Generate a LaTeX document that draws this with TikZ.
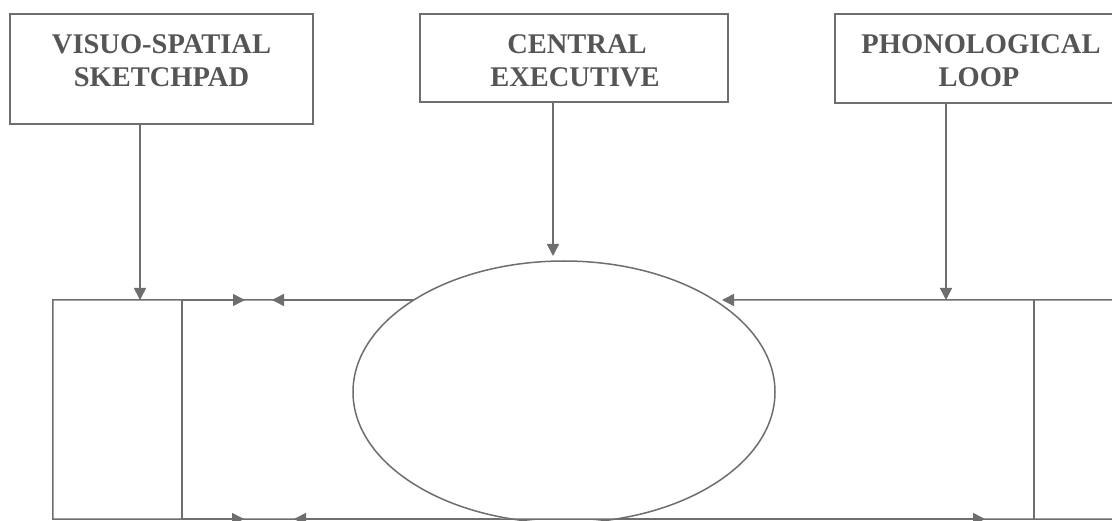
\documentclass[tikz,border=0pt]{standalone}
\usepackage{fontspec}
\setmainfont{Liberation Serif}
\usetikzlibrary{arrows.meta,shapes.geometric}
\definecolor{linec}{HTML}{6E6E6E}
\definecolor{textc}{HTML}{555555}
\begin{document}
\begin{tikzpicture}[x=1pt,y=-1pt,
  ln/.style={draw=linec, line width=1.5pt},
  box/.style={ln, rectangle, inner sep=0pt},
  lbl/.style={font=\fontsize{28.5}{34}\selectfont\bfseries, text=textc, anchor=base, inner sep=0pt},
  arr/.style={ln, -{Triangle[length=12pt,width=12pt]}},
]
\useasboundingbox (0,0) rectangle (1112,521);
\clip (0,0) rectangle (1112,521);
\fill[white] (0,0) rectangle (1112,521);

% top boxes
\node[box, minimum width=303pt, minimum height=110pt] (vss) at (161.5,69) {};
\node[box, minimum width=308pt, minimum height=88pt] (ce) at (574,58) {};
\node[box, minimum width=290pt, minimum height=89pt] (pl) at (980,58.5) {};

\node[lbl] (vss1) at (161.5,54) {VISUO-SPATIAL};
\node[lbl] (vss2) at (161.5,87) {SKETCHPAD};
\node[lbl] (ce1) at (577,54) {CENTRAL};
\node[lbl] (ce2) at (575,87) {EXECUTIVE};
\node[lbl] (pl1) at (981,54) {PHONOLOGICAL};
\node[lbl] (pl2) at (979,87) {LOOP};

% main frame (outline drawn piecewise below)
\node[rectangle, inner sep=0pt, minimum width=1072pt, minimum height=219pt] (wm) at (589,409.5) {};

% central oval
\node[ellipse, ln, inner sep=0pt, minimum width=422pt, minimum height=262pt] (oval) at (564,392) {};

% coordinates
\coordinate (vIn) at (140,300);
\coordinate (cIn) at (553,256);
\coordinate (pIn) at (946,300);
\coordinate (eL) at (414,300);
\coordinate (eR) at (722,300);
\coordinate (bL) at (500,519);
\coordinate (bR) at (617,519);
\coordinate (tA) at (245,300);
\coordinate (tB) at (272,300);
\coordinate (bA) at (244,519);
\coordinate (bB) at (294,519);
\coordinate (bC) at (985,519);
\coordinate (iL) at (182,300);
\coordinate (iLb) at (182,519);
\coordinate (iR) at (1034,300);
\coordinate (iRb) at (1034,519);

% frame
\draw[ln] (eL) -- (wm.north west) -- (wm.south west) -- (wm.south east) -- (wm.north east);
\draw[ln] (iL) -- (iLb);
\draw[ln] (iR) -- (iRb);

% vertical inputs
\draw[arr] (vss.south -| vIn) -- (vIn);
\draw[arr] (ce.south -| cIn) -- (cIn);
\draw[arr] (pl.south -| pIn) -- (pIn);

% top horizontal arrows
\draw[arr] (iL) -- (tA);
\draw[arr] (eL) -- (tB);
\draw[arr] (wm.north east) -- (eR);

% bottom arrows
\draw[arr] (iLb) -- (bA);
\draw[arr] (bL) -- (bB);
\draw[arr] (bR) -- (bC);
\end{tikzpicture}
\end{document}
